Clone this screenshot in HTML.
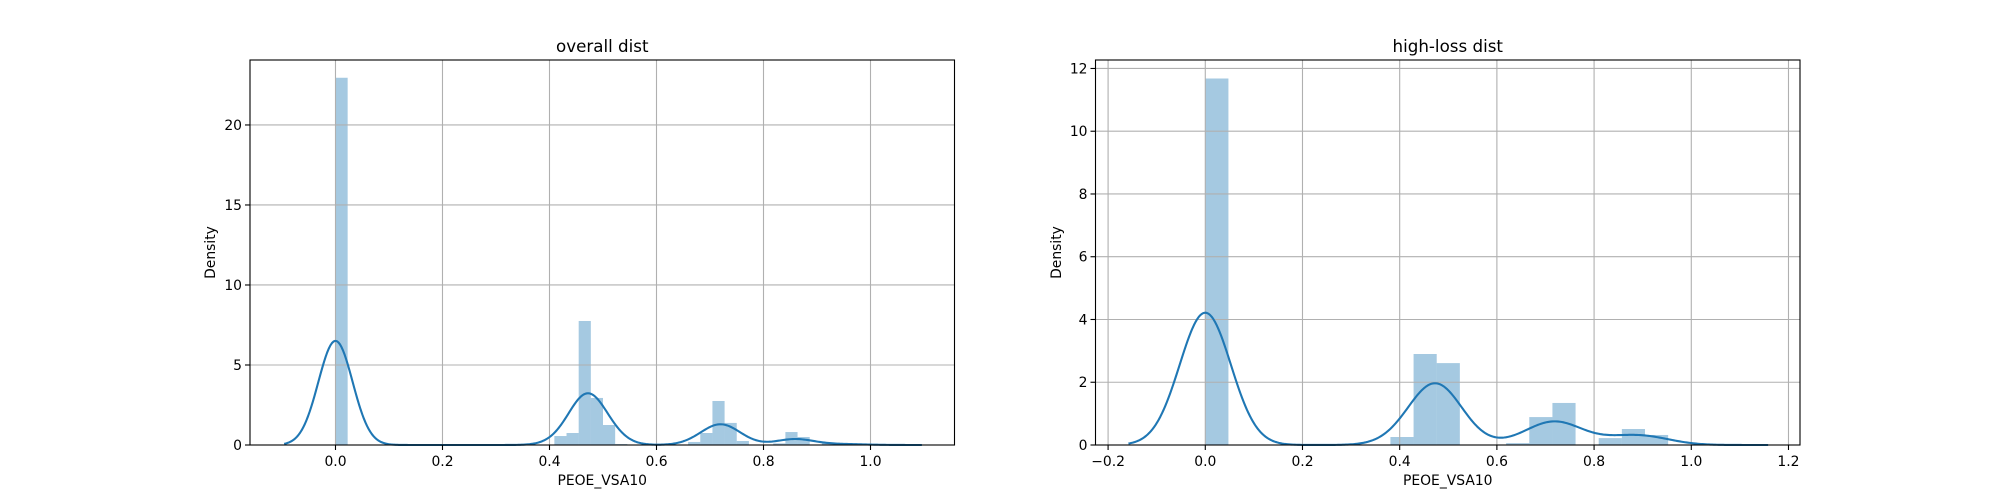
<!DOCTYPE html>
<html><head><meta charset="utf-8">
<style>
html,body{margin:0;padding:0;background:#fff;}
svg{display:block;font-family:"DejaVu Sans","Liberation Sans",sans-serif;}
</style></head>
<body>
<svg id="fig" width="2000" height="500" viewBox="0 0 2000 500" xmlns="http://www.w3.org/2000/svg">
<rect width="2000" height="500" fill="#fff"/>
</svg>
<script>
// ---- Left panel data: overall dist ----
const leftBinWidth = 1/44;
const leftBinIndex = [0, 18, 19, 20, 21, 22, 23, 29, 30, 31, 32, 33, 36, 37, 38, 40, 41, 42, 43];
const leftDensity  = [22.95, 0.56, 0.75, 7.75, 2.94, 1.25, 0.06, 0.19, 0.75, 2.75, 1.38, 0.25, 0.1, 0.81, 0.5, 0.1, 0.08, 0.05, 0.05];
const leftKdeLocs  = [0, 0.4205, 0.443, 0.466, 0.489, 0.511, 0.534, 0.67, 0.693, 0.716, 0.739, 0.761, 0.83, 0.852, 0.875, 0.92, 0.943, 0.966, 0.989];
const leftKdeMass  = [0.522, 0.0127, 0.017, 0.176, 0.0668, 0.0284, 0.0014, 0.0043, 0.017, 0.0625, 0.0314, 0.0057, 0.0023, 0.0184, 0.0114, 0.0023, 0.0018, 0.0011, 0.0011];
const leftBandwidth = 0.032;
const leftDataRange = [0, 1.0];
const leftXTicks = [0.0, 0.2, 0.4, 0.6, 0.8, 1.0];
const leftXTickLabels = ["0.0", "0.2", "0.4", "0.6", "0.8", "1.0"];
const leftYTicks = [0, 5, 10, 15, 20];
const leftYTickLabels = ["0", "5", "10", "15", "20"];

// ---- Right panel data: high-loss dist ----
const rightBinWidth = 1/21;
const rightBinIndex = [0, 8, 9, 10, 13, 14, 15, 17, 18, 19];
const rightDensity  = [11.68, 0.255, 2.90, 2.61, 0.06, 0.89, 1.34, 0.22, 0.51, 0.32];
const rightKdeLocs  = [0, 0.41, 0.462, 0.488, 0.643, 0.69, 0.735, 0.833, 0.881, 0.929];
const rightKdeMass  = [0.557, 0.0121, 0.138, 0.124, 0.003, 0.042, 0.064, 0.0105, 0.0243, 0.0152];
const rightBandwidth = 0.0527;
const rightDataRange = [0, 1.0];
const rightXTicks = [-0.2, 0.0, 0.2, 0.4, 0.6, 0.8, 1.0, 1.2];
const rightXTickLabels = ["−0.2", "0.0", "0.2", "0.4", "0.6", "0.8", "1.0", "1.2"];
const rightYTicks = [0, 2, 4, 6, 8, 10, 12];
const rightYTickLabels = ["0", "2", "4", "6", "8", "10", "12"];

const NS = "http://www.w3.org/2000/svg";
const fig = document.getElementById('fig');
function mk(tag, attrs, parent){
  const e = document.createElementNS(NS, tag);
  for (const k in attrs) e.setAttribute(k, attrs[k]);
  (parent||fig).appendChild(e);
  return e;
}

function panel(cfg){
  const L=cfg.left, R=cfg.right, T=60, B=445;
  const sx = v => L + (v - cfg.xmin)/(cfg.xmax - cfg.xmin)*(R-L);
  const sy = v => B - (v - cfg.ymin)/(cfg.ymax - cfg.ymin)*(B-T);
  const g = mk('g', {});
  
  
  cfg.binIndex.forEach((k,i)=>{
    const x0 = sx(k*cfg.binWidth), x1 = sx((k+1)*cfg.binWidth);
    const r = mk('rect', {x:x0, y:sy(cfg.density[i]), width:x1-x0, height:B-sy(cfg.density[i]), fill:'rgba(31,119,180,0.4)'}, g);
    
    
  });
  cfg.xTicks.forEach(t=>{
    const l = mk('line', {x1:sx(t), x2:sx(t), y1:T, y2:B, stroke:'#b0b0b0', 'stroke-width':1.1}, g);
    
    
  });
  cfg.yTicks.forEach(t=>{
    const l = mk('line', {x1:L, x2:R, y1:sy(t), y2:sy(t), stroke:'#b0b0b0', 'stroke-width':1.1}, g);
    
    
  });
  const pts=[];
  const n=400, a=cfg.dataRange[0]-3*cfg.bw, b=cfg.dataRange[1]+3*cfg.bw;
  for(let j=0;j<=n;j++){
    const x=a+(b-a)*j/n;
    let d=0;
    cfg.kdeLocs.forEach((m,i)=>{ const z=(x-m)/cfg.bw; d+=cfg.kdeMass[i]*Math.exp(-0.5*z*z)/(cfg.bw*Math.sqrt(2*Math.PI)); });
    pts.push(sx(x).toFixed(2)+','+sy(d).toFixed(2));
  }
  const pl = mk('polyline', {points:pts.join(' '), fill:'none', stroke:'#1f77b4', 'stroke-width':2.1, 'stroke-linejoin':'round'}, g);
  
  
  const fr = mk('rect', {x:L, y:T, width:R-L, height:B-T, fill:'none', stroke:'#000', 'stroke-width':1.1}, g);
  
  
  cfg.xTicks.forEach((t,i)=>{
    mk('line', {x1:sx(t), x2:sx(t), y1:B, y2:B+5, stroke:'#000', 'stroke-width':1.1}, g);
    const tx = mk('text', {x:sx(t), y:466, 'font-size':'13.9', 'text-anchor':'middle', fill:'#000'}, g);
    tx.textContent = cfg.xTickLabels[i];
    
    
  });
  cfg.yTicks.forEach((t,i)=>{
    mk('line', {x1:L-5, x2:L, y1:sy(t), y2:sy(t), stroke:'#000', 'stroke-width':1.1}, g);
    const tx = mk('text', {x:L-8, y:sy(t)+5, 'font-size':'13.9', 'text-anchor':'end', fill:'#000'}, g);
    tx.textContent = cfg.yTickLabels[i];
    
    
  });
  const ti = mk('text', {x:(L+R)/2, y:52, 'font-size':'16.7', 'text-anchor':'middle', fill:'#000'}, g);
  ti.textContent = cfg.title;
  
  
  const xl = mk('text', {x:(L+R)/2, y:485, 'font-size':'13.9', 'text-anchor':'middle', fill:'#000'}, g);
  xl.textContent = 'PEOE_VSA10';
  
  
  const yx = cfg.ylabelX, yy=(T+B)/2;
  const yl = mk('text', {x:yx, y:yy, 'font-size':'13.9', 'text-anchor':'middle', fill:'#000', transform:`rotate(-90 ${yx} ${yy})`}, g);
  yl.textContent = 'Density';
  
  
}

panel({name:'overall-dist-chart', title:'overall dist', left:250, right:954.5, xmin:-0.1598, xmax:1.1570, ymin:0, ymax:24.06,
  binWidth:leftBinWidth, binIndex:leftBinIndex, density:leftDensity, kdeLocs:leftKdeLocs, kdeMass:leftKdeMass, bw:leftBandwidth, dataRange:leftDataRange,
  xTicks:leftXTicks, xTickLabels:leftXTickLabels, yTicks:leftYTicks, yTickLabels:leftYTickLabels, ylabelX:215});
panel({name:'high-loss-dist-chart', title:'high-loss dist', left:1095.5, right:1800, xmin:-0.2259, xmax:1.2237, ymin:0, ymax:12.27,
  binWidth:rightBinWidth, binIndex:rightBinIndex, density:rightDensity, kdeLocs:rightKdeLocs, kdeMass:rightKdeMass, bw:rightBandwidth, dataRange:rightDataRange,
  xTicks:rightXTicks, xTickLabels:rightXTickLabels, yTicks:rightYTicks, yTickLabels:rightYTickLabels, ylabelX:1061});
</script>
</body></html>
